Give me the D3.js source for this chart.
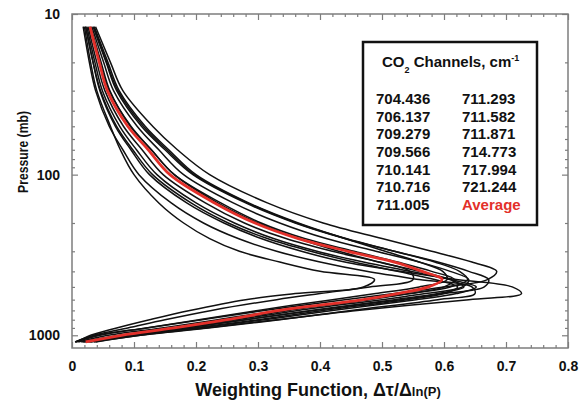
<!DOCTYPE html>
<html>
<head>
<meta charset="utf-8">
<script src="https://cdn.jsdelivr.net/npm/d3@7"></script>
<style>
  body { margin: 0; background: #fff; }
  text { font-family: "Liberation Sans", Arial, Helvetica, sans-serif; font-weight: bold; }
</style>
</head>
<body>
<svg id="chart" width="588" height="405"></svg>
<script>
// pressure levels (mb) at which each weighting function was read
var pressureLevels = [12, 20, 30, 50, 70, 100, 150, 200, 250, 300, 350, 400, 450, 500, 550, 600, 700, 800, 900, 1000, 1100];

var wf704436 = [.038, .062, .082, .130, .170, .222, .315, .405, .500, .580, .645, .685, .670, .600, .520, .440, .310, .210, .120, .040, .005];
var wf706137 = [.036, .058, .076, .118, .156, .200, .285, .365, .440, .505, .560, .598, .605, .560, .490, .420, .300, .205, .120, .045, .006];
var wf709279 = [.035, .056, .074, .115, .153, .197, .283, .362, .442, .520, .585, .625, .638, .610, .545, .470, .335, .235, .145, .058, .010];
var wf709566 = [.032, .051, .067, .105, .140, .180, .260, .335, .410, .490, .560, .610, .640, .630, .570, .500, .365, .265, .170, .080, .015];
var wf710141 = [.034, .055, .072, .112, .150, .195, .280, .360, .440, .520, .590, .640, .672, .665, .600, .530, .390, .280, .180, .085, .020];
var wf710716 = [.030, .047, .061, .094, .128, .165, .240, .305, .375, .455, .525, .580, .617, .600, .545, .480, .350, .255, .165, .078, .018];
var wf711005 = [.028, .045, .060, .095, .128, .165, .235, .300, .365, .430, .495, .545, .550, .480, .400, .330, .225, .150, .090, .035, .005];
var wf711293 = [.026, .040, .053, .083, .113, .147, .215, .278, .345, .420, .495, .560, .610, .632, .590, .520, .385, .280, .185, .090, .025];
var wf711582 = [.022, .034, .046, .072, .098, .130, .192, .252, .315, .385, .455, .525, .585, .622, .600, .540, .405, .300, .195, .095, .028];
var wf711871 = [.024, .037, .049, .077, .104, .137, .200, .262, .325, .395, .470, .545, .610, .652, .620, .555, .420, .310, .205, .100, .030];
var wf714773 = [.018, .028, .038, .060, .082, .108, .160, .212, .268, .330, .400, .475, .560, .645, .650, .590, .450, .335, .220, .110, .035];
var wf717994 = [.022, .034, .045, .070, .095, .125, .185, .245, .305, .370, .440, .530, .620, .710, .725, .640, .460, .330, .215, .110, .038];
var wf721244 = [.020, .030, .040, .062, .078, .100, .140, .180, .222, .270, .335, .400, .488, .470, .360, .280, .190, .125, .072, .030, .008];
var wfAverage = [.029, .044, .057, .090, .123, .158, .230, .295, .365, .445, .520, .565, .597, .575, .525, .470, .335, .250, .165, .080, .022];

var channelNames = ["704.436", "706.137", "709.279", "709.566", "710.141", "710.716", "711.005",
                    "711.293", "711.582", "711.871", "714.773", "717.994", "721.244"];
var channelSeries = [wf704436, wf706137, wf709279, wf709566, wf710141, wf710716, wf711005,
                     wf711293, wf711582, wf711871, wf714773, wf717994, wf721244];

var xTickValues = [0, 0.1, 0.2, 0.3, 0.4, 0.5, 0.6, 0.7, 0.8];
var xTickLabels = ["0", "0.1", "0.2", "0.3", "0.4", "0.5", "0.6", "0.7", "0.8"];
var yTickValues = [10, 100, 1000];

var red = "#e3302a";
var frameColor = "#7d7d7d";

var svg = d3.select("#chart");

var x = d3.scaleLinear().domain([0, 0.8]).range([72, 568]);
var y = d3.scaleLog().domain([10, 1200]).range([14, 348]);

// minor ticks
var xMinor = x.ticks(40).filter(function(d) { return xTickValues.indexOf(+d.toFixed(2)) < 0; });
var yMinor = y.ticks().filter(function(d) { return yTickValues.indexOf(d) < 0; });

function styleAxis(g) {
  g.select(".domain").remove();
  g.selectAll(".tick line").attr("stroke", frameColor).attr("stroke-width", 1.2);
  g.selectAll(".tick text").attr("fill", "#111").style("font-size", "14px").style("font-weight", "bold")
    .style("font-family", "'Liberation Sans', Arial, sans-serif");
}

// bottom
svg.append("g").attr("transform", "translate(0,348)")
  .call(d3.axisBottom(x).tickValues(xMinor).tickSize(-3).tickFormat(""))
  .call(styleAxis);
svg.append("g").attr("transform", "translate(0,348)")
  .call(d3.axisBottom(x).tickValues(xTickValues).tickSize(-6).tickPadding(13)
    .tickFormat(function(d, i) { return xTickLabels[i]; }))
  .call(styleAxis);
// top
svg.append("g").attr("transform", "translate(0,14)")
  .call(d3.axisTop(x).tickValues(xMinor).tickSize(-3).tickFormat(""))
  .call(styleAxis);
svg.append("g").attr("transform", "translate(0,14)")
  .call(d3.axisTop(x).tickValues(xTickValues).tickSize(-6).tickFormat(""))
  .call(styleAxis);
// left
svg.append("g").attr("transform", "translate(72,0)")
  .call(d3.axisLeft(y).tickValues(yMinor).tickSize(-3).tickFormat(""))
  .call(styleAxis);
svg.append("g").attr("transform", "translate(72,0)")
  .call(d3.axisLeft(y).tickValues(yTickValues).tickSize(-6).tickPadding(12).tickFormat(d3.format("d")))
  .call(styleAxis);
// right
svg.append("g").attr("transform", "translate(568,0)")
  .call(d3.axisRight(y).tickValues(yMinor).tickSize(-3).tickFormat(""))
  .call(styleAxis);
svg.append("g").attr("transform", "translate(568,0)")
  .call(d3.axisRight(y).tickValues(yTickValues).tickSize(-6).tickFormat(""))
  .call(styleAxis);

svg.append("rect")
  .attr("x", 72).attr("y", 14).attr("width", 496).attr("height", 334)
  .attr("fill", "none").attr("stroke", frameColor).attr("stroke-width", 1.5);

// curves
var line = d3.line()
  .x(function(d) { return x(d[1]); })
  .y(function(d) { return y(d[0]); })
  .curve(d3.curveCatmullRom.alpha(0.5));

function toPoints(series) {
  return pressureLevels.map(function(p, i) { return [p, series[i]]; });
}

svg.append("g").selectAll("path")
  .data(channelSeries)
  .join("path")
  .attr("d", function(d) { return line(toPoints(d)); })
  .attr("fill", "none")
  .attr("stroke", "#111")
  .attr("stroke-width", 1.5);

svg.append("path")
  .attr("d", line(toPoints(wfAverage)))
  .attr("fill", "none")
  .attr("stroke", red)
  .attr("stroke-width", 2.8);

// legend
var legend = svg.append("g");
legend.append("rect")
  .attr("x", 363).attr("y", 42).attr("width", 174).attr("height", 183)
  .attr("fill", "#fff").attr("stroke", "#111").attr("stroke-width", 2.5);

var title = legend.append("text").attr("x", 382).attr("y", 67)
  .style("font-size", "15px").attr("fill", "#111");
title.append("tspan").text("CO");
title.append("tspan").attr("dy", 6).style("font-size", "9px").text("2");
title.append("tspan").attr("dy", -6).text(" Channels, cm");
title.append("tspan").attr("dy", -6).style("font-size", "9px").text("-1");

var rowY = d3.scaleLinear().domain([0, 6]).range([104, 210]);
var leftCol = channelNames.slice(0, 7);
var rightCol = channelNames.slice(7).concat(["Average"]);

legend.selectAll(".lcol").data(leftCol).join("text")
  .attr("class", "lcol")
  .attr("x", 376).attr("y", function(d, i) { return rowY(i); })
  .style("font-size", "15px").attr("fill", "#111")
  .text(function(d) { return d; });

legend.selectAll(".rcol").data(rightCol).join("text")
  .attr("class", "rcol")
  .attr("x", 462).attr("y", function(d, i) { return rowY(i); })
  .style("font-size", "15px")
  .attr("fill", function(d) { return d === "Average" ? red : "#111"; })
  .text(function(d) { return d; });

// axis titles
var xTitle = svg.append("text").attr("x", 318).attr("y", 396)
  .attr("text-anchor", "middle").style("font-size", "18px").attr("fill", "#111");
xTitle.append("tspan").text("Weighting Function, \u0394\u03c4/\u0394");
xTitle.append("tspan").style("font-size", "13px").text("ln(P)");

svg.append("text")
  .attr("transform", "translate(28,152) rotate(-90)")
  .attr("text-anchor", "middle")
  .attr("textLength", 82).attr("lengthAdjust", "spacingAndGlyphs")
  .style("font-size", "14px").attr("fill", "#111")
  .text("Pressure (mb)");
</script>
</body>
</html>
